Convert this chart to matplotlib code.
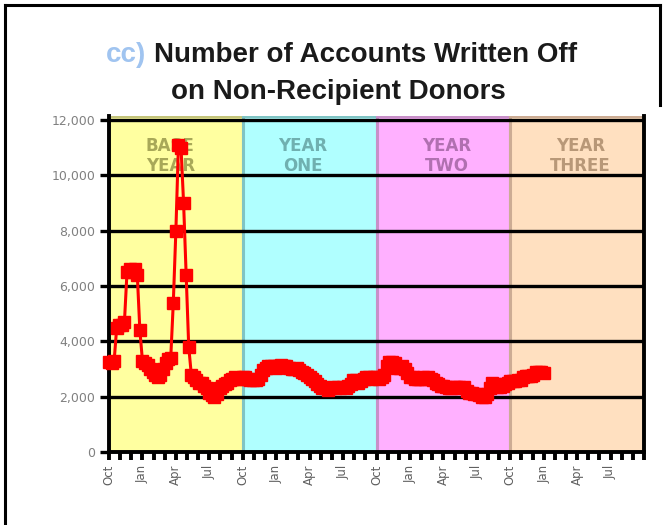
import numpy as np
import matplotlib.pyplot as plt
from matplotlib.patches import Rectangle
from matplotlib.lines import Line2D
from matplotlib.ticker import FuncFormatter

# weekly write-off counts, starting October of the base year
written_off = [
    3250, 3200, 3300, 4500, 4600, 4600, 4700, 6500, 6600, 6500,
    6600, 6400, 4400, 3300, 3200, 3150, 3000, 2900, 2800, 2700,
    2800, 3000, 3200, 3350, 3400, 5400, 8000, 11100, 11000, 9000,
    6400, 3800, 2800, 2700, 2600, 2500, 2500, 2400, 2300, 2150,
    2050, 2000, 2100, 2300, 2400, 2450, 2500, 2600, 2650, 2700,
    2650, 2650, 2700, 2700, 2650, 2600, 2600, 2600, 2650, 2800,
    2950, 3050, 3100, 3100, 3100, 3050, 3100, 3150, 3100, 3100,
    3050, 3000, 3000, 3050, 2950, 2900, 2850, 2800, 2700, 2650,
    2550, 2450, 2400, 2300, 2300, 2250, 2300, 2350, 2300, 2350,
    2300, 2350, 2300, 2400, 2450, 2600, 2600, 2500, 2550, 2650,
    2700, 2700, 2650, 2700, 2700, 2650, 2700, 2800, 3100, 3250,
    3250, 3200, 3050, 3050, 3100, 3000, 2850, 2700, 2700, 2650,
    2650, 2650, 2700, 2650, 2700, 2650, 2600, 2500, 2450, 2400,
    2400, 2350, 2300, 2300, 2350, 2350, 2350, 2300, 2350, 2200,
    2150, 2150, 2100, 2100, 2050, 2000, 2000, 2100, 2300, 2500,
    2450, 2350, 2350, 2400, 2450, 2500, 2550, 2550, 2550, 2600,
    2600, 2700, 2750, 2750, 2750, 2800, 2900, 2900, 2900, 2850,
]
periods = ['BASE\nYEAR', 'YEAR\nONE', 'YEAR\nTWO', 'YEAR\nTHREE']
month_labels = ['Oct', 'Jan', 'Apr', 'Jul']

band_colors = ['#ffffa0', '#b0ffff', '#ffb0ff', '#ffe0c0']
edge_colors = ['#c4c47c', '#80c4c4', '#c890c8', '#ccac94']
text_colors = ['#a8a858', '#70b0b0', '#b070b0', '#b89878']
label_offsets = [5.5, 5.4, 6.3, 6.3]

weeks = np.arange(len(written_off))
months = weeks * 12 / 52

W, H = 670, 525
fig = plt.figure(figsize=(W / 100, H / 100), dpi=100)
ax = fig.add_axes([109 / W, (H - 452) / H, (644 - 109) / W, (452 - 116) / H])
ax.set_xlim(0, 48)
ax.set_ylim(0, 12145)

for k, name in enumerate(periods):
    ax.add_patch(Rectangle((12 * k, 0), 12, 12145, facecolor=band_colors[k],
                           edgecolor=edge_colors[k], lw=2.2, zorder=0.2))
    ax.text(12 * k + label_offsets[k], 10700, name, ha='center', va='center',
            fontsize=12, fontweight='bold', color=text_colors[k],
            linespacing=1.1, zorder=0.4)

ax.set_yticks(range(0, 12001, 2000))
ax.yaxis.set_major_formatter(FuncFormatter(lambda v, p: f'{int(v):,}'))
ax.set_axisbelow(True)
ax.yaxis.grid(True, color='black', lw=2.4)

ax.set_xticks(range(0, 49))
xt = []
for m in range(49):
    xt.append(month_labels[(m // 3) % 4] if m % 3 == 0 and m < 48 else '')
ax.set_xticklabels(xt, rotation=90, fontsize=8.5, color='#606060')

ax.tick_params(axis='x', length=6, width=2.8, color='black', pad=3)
ax.tick_params(axis='y', length=6.5, width=2.4, color='black', pad=3.5,
               labelsize=9, labelcolor='#808080')

for s in ['left', 'bottom', 'right']:
    ax.spines[s].set_color('black')
    ax.spines[s].set_linewidth(2.8)
ax.spines['top'].set_visible(False)

ax.plot(months, written_off, color='#ff0000', lw=2.2, marker='s', ms=8.5,
        mec='#ff0000', mfc='#ff0000', zorder=3, clip_on=False)

# title
fig.text(146 / W, 1 - 55 / H, 'cc)', ha='right', va='center', fontsize=20,
         fontweight='bold', color='#a0c4f0', family='Liberation Sans')
fig.text(366 / W, 1 - 55 / H, 'Number of Accounts Written Off', ha='center',
         va='center', fontsize=20, fontweight='bold', color='#1a1a1a',
         family='Liberation Sans')
fig.text(338 / W, 1 - 92 / H, 'on Non-Recipient Donors', ha='center',
         va='center', fontsize=20, fontweight='bold', color='#1a1a1a',
         family='Liberation Sans')

# page frame
fig.add_artist(Line2D([5 / W, 5 / W], [0, 1 - 5 / H], transform=fig.transFigure,
                      color='black', lw=2.2))
fig.add_artist(Line2D([5 / W, 660 / W], [1 - 5 / H, 1 - 5 / H],
                      transform=fig.transFigure, color='black', lw=2.2))
fig.add_artist(Line2D([660 / W, 660 / W], [1 - 5 / H, 1 - 105 / H],
                      transform=fig.transFigure, color='black', lw=2.2))

fig.savefig('out.png', dpi=100)
